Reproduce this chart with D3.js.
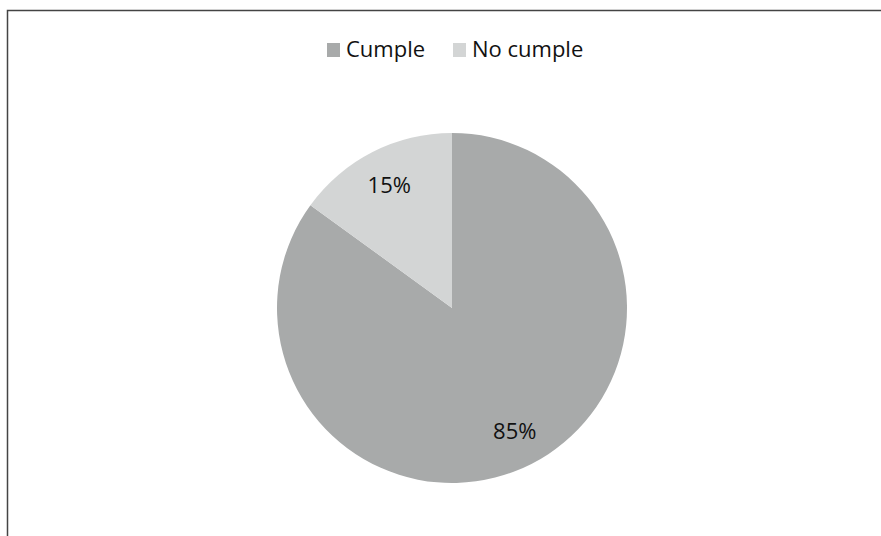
<!DOCTYPE html>
<html>
<head>
<meta charset="utf-8">
<script src="https://cdn.jsdelivr.net/npm/d3@7"></script>
<style>
  body { margin: 0; background: #fff; }
  svg { display: block; font-family: "Open Sans", "Noto Sans", sans-serif; }
</style>
</head>
<body>
<svg id="chart" width="881" height="536"></svg>
<script>
// data
const categories = ["Cumple", "No cumple"];
const values = [85, 15];
const labels = ["85%", "15%"];

const width = 881;
const height = 536;
const svg = d3.select("#chart");

const colour = d3.scaleOrdinal()
  .domain(categories)
  .range(["#a8aaaa", "#d3d5d5"]);

// frame of the scanned chart, only top and left edges show
svg.append("path")
  .attr("d", `M7.5,${height} V10.5 H${width}`)
  .attr("fill", "none")
  .attr("stroke", "#444")
  .attr("stroke-width", 1.5);

const cx = 452, cy = 308, radius = 175;

const pie = d3.pie().sort(null).value((d) => d.value);
const arcs = pie(categories.map((c, i) => ({ name: c, value: values[i], label: labels[i] })));

const arc = d3.arc().innerRadius(0).outerRadius(radius);
const labelArc = d3.arc().innerRadius(radius * 0.79).outerRadius(radius * 0.79);

const g = svg.append("g").attr("transform", `translate(${cx},${cy})`);

g.selectAll(".slice")
  .data(arcs)
  .enter()
  .append("path")
  .attr("class", "slice")
  .attr("d", arc)
  .attr("fill", (d) => colour(d.data.name));

g.selectAll(".pct")
  .data(arcs)
  .enter()
  .append("text")
  .attr("class", "pct")
  .attr("transform", (d) => `translate(${labelArc.centroid(d)})`)
  .attr("text-anchor", "middle")
  .attr("dy", "0.35em")
  .attr("font-size", 22)
  .attr("fill", "#111")
  .text((d) => d.data.label);

// legend across the top
const legendX = [327, 453];
const legend = svg.selectAll(".legend")
  .data(categories)
  .enter()
  .append("g")
  .attr("class", "legend")
  .attr("transform", (d, i) => `translate(${legendX[i]},43)`);

legend.append("rect")
  .attr("width", 13)
  .attr("height", 14)
  .attr("fill", (d) => colour(d));

legend.append("text")
  .attr("x", 19)
  .attr("y", 14)
  .attr("font-size", 22)
  .attr("fill", "#111")
  .text((d) => d);
</script>
</body>
</html>
